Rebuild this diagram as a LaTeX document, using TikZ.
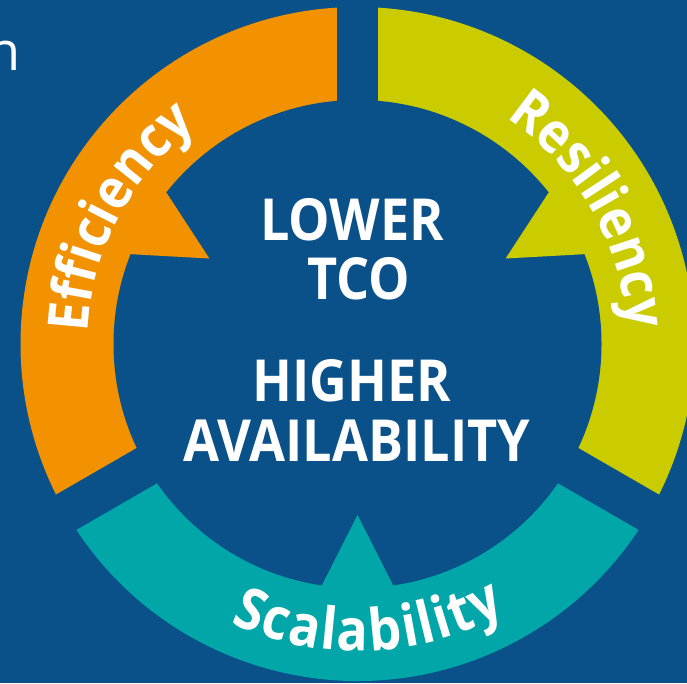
\documentclass[tikz,border=0pt]{standalone}
\usepackage{fontspec}
\setmainfont{Open Sans}
\newfontfamily\narrowsans{Open Sans}[FakeStretch=0.9]
\usetikzlibrary{decorations.text,calc}
\definecolor{bgblue}{HTML}{0A5189}
\definecolor{segorange}{HTML}{F39200}
\definecolor{segyellow}{HTML}{CBCC00}
\definecolor{segteal}{HTML}{00A6A8}
\newcommand\curvefont{\narrowsans\fontsize{56}{56}\selectfont\bfseries\color{white}}
\newcommand\scalefont{\narrowsans\fontsize{58}{58}\selectfont\bfseries\color{white}}
\begin{document}
\begin{tikzpicture}[x=1pt,y=1pt,
  centertext/.style={text=white, font=\narrowsans\fontsize{58}{58}\selectfont\bfseries, anchor=base, inner sep=0pt},
  gapband/.style={draw=bgblue, line width=40.6pt}]
\useasboundingbox (0,0) rectangle (687,683);
\fill[bgblue] (0,0) rectangle (687,683);
\coordinate (C) at (357.5,339);
% ring sectors
\fill[segorange] (C) -- ([shift={(90:337)}]C) arc[start angle=90,end angle=210,radius=337] -- cycle;
\fill[segteal] (C) -- ([shift={(210:337)}]C) arc[start angle=210,end angle=330,radius=337] -- cycle;
\fill[segyellow] (C) -- ([shift={(330:337)}]C) arc[start angle=330,end angle=450,radius=337] -- cycle;
\fill[bgblue] (C) circle[radius=244];
% inward pointers
\foreach \a/\c/\n in {150/segorange/po,270/segteal/pt,30/segyellow/py}{
  \coordinate (\n tip) at ([shift={(\a:171)}]C);
  \coordinate (\n l) at ([shift={({\a-8.4}:244)}]C);
  \coordinate (\n r) at ([shift={({\a+8.4}:244)}]C);
  \fill[\c] (\n tip) -- ($(\n tip)!1.25!(\n l)$) -- ($(\n tip)!1.25!(\n r)$) -- cycle;
}
% gaps
\foreach \a in {90,210,330}
  \draw[gapband] (C) -- ([shift={(\a:350)}]C);
% curved labels
\path[decorate, decoration={text along path, text align=center, text={|\curvefont|Efficiency}}]
  ([shift={(177:270)}]C) arc[start angle=177,end angle=127,radius=270];
\path[decorate, decoration={text along path, text align=center, text={|\curvefont|Resiliency}}]
  ([shift={(56:270)}]C) arc[start angle=56,end angle=4,radius=270];
\path[decorate, decoration={text along path, text align=fit to path, text={|\scalefont|Scalability}}]
  ([shift={(245.5:307)}]C) arc[start angle=245.5,end angle=299,radius=307];
% centre text
\node[centertext] (lower) at (352,442) {LOWER};
\node[centertext] (tco) at (359,383) {TCO};
\node[centertext] (higher) at (352,281) {HIGHER};
\node[centertext] (avail) at (357,222) {AVAILABILITY};
% cut-off letter at top left
\node[anchor=base east, text=white, font=\fontsize{54}{54}\selectfont, inner sep=0pt] (ncut) at (21,612) {n};
\end{tikzpicture}
\end{document}
